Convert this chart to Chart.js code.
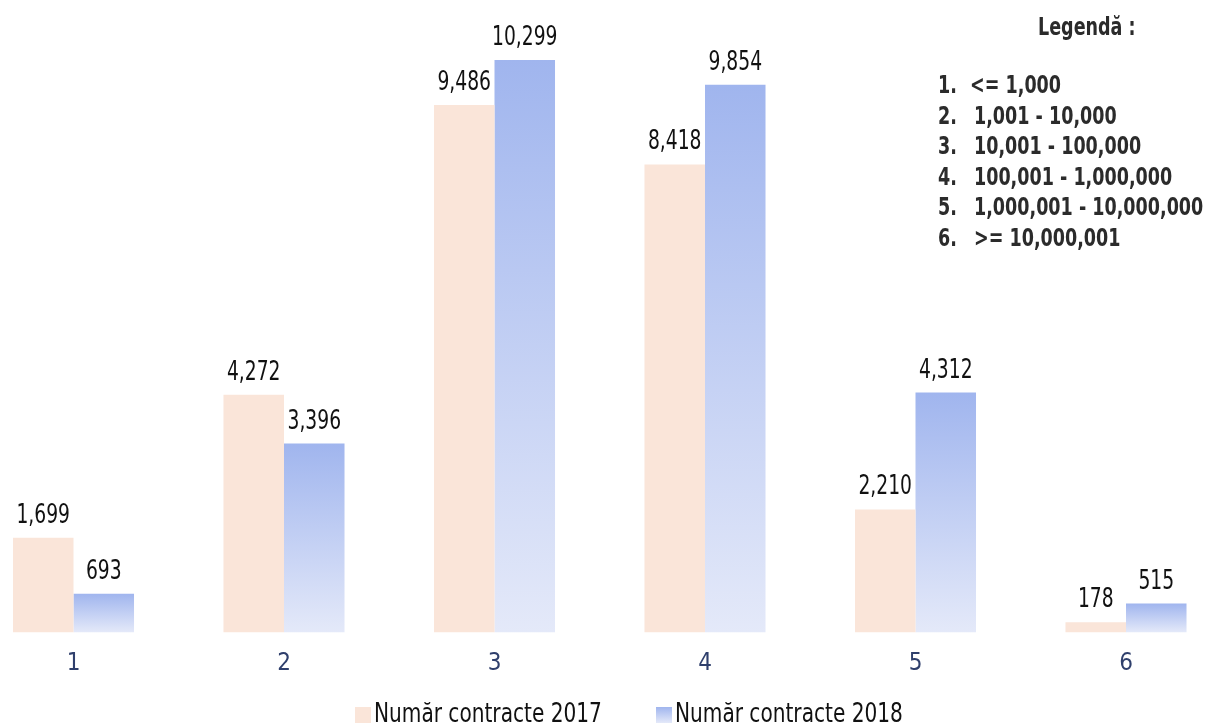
<!DOCTYPE html>
<html>
<head>
<meta charset="utf-8">
<script src="https://cdn.jsdelivr.net/npm/chart.js@4"></script>
<style>
  html, body { margin: 0; padding: 0; background: #ffffff; }
  #wrap { position: relative; width: 1209px; height: 724px; overflow: hidden; font-family: "DejaVu Sans Condensed", "DejaVu Sans", sans-serif; }
  canvas { position: absolute; left: 0; top: 0; }
  #note { position: absolute; left: 938px; top: 12px; color: #2b2b2b; font-weight: bold; font-size: 25px; }
  #note div { position: absolute; white-space: nowrap; line-height: 30px; transform: scaleX(0.78); transform-origin: 0 50%; }
  #legend { position: absolute; left: 0; top: 699px; width: 1209px; height: 28px; color: #111; font-size: 26px; }
  #legend .box { position: absolute; top: 8px; width: 16px; height: 16px; }
  #legend .txt { position: absolute; top: 0; line-height: 28px; white-space: nowrap; transform: scaleX(0.86); transform-origin: 0 50%; }
</style>
</head>
<body>
<div id="wrap">
  <canvas id="c" width="1209" height="724"></canvas>
  <div id="note"></div>
  <div id="legend"></div>
</div>
<script>
const categories = ["1", "2", "3", "4", "5", "6"];
const seriesNames = ["Număr contracte 2017", "Număr contracte 2018"];
const values2017 = [1699, 4272, 9486, 8418, 2210, 178];
const values2018 = [693, 3396, 10299, 9854, 4312, 515];
const noteTitle = "Legendă :";
const noteNums = ["1.", "2.", "3.", "4.", "5.", "6."];
const noteRanges = ["<= 1,000", "1,001 - 10,000", "10,001 - 100,000", "100,001 - 1,000,000", "1,000,001 - 10,000,000", ">= 10,000,001"];

const peach = "#fae5d9";
const blueTop = "#a0b5ee";
const blueBottom = "#e4e9f9";
const FONT = '"DejaVu Sans Condensed", "DejaVu Sans", sans-serif';

function blueGradient(ctx) {
  const chart = ctx.chart;
  if (!chart.chartArea || ctx.raw === undefined) return blueTop;
  const y = chart.scales.y;
  const top = y.getPixelForValue(ctx.raw);
  const bottom = y.getPixelForValue(0);
  const g = chart.ctx.createLinearGradient(0, top, 0, bottom);
  g.addColorStop(0, blueTop);
  g.addColorStop(1, blueBottom);
  return g;
}

const valueLabels = {
  id: "valueLabels",
  afterDatasetsDraw(chart) {
    const c = chart.ctx;
    c.save();
    c.font = "26px " + FONT;
    c.fillStyle = "#111111";
    c.textAlign = "center";
    c.textBaseline = "alphabetic";
    chart.data.datasets.forEach((ds, di) => {
      const meta = chart.getDatasetMeta(di);
      meta.data.forEach((el, i) => {
        const txt = ds.data[i].toLocaleString("en-US");
        const w = c.measureText(txt).width;
        c.fillText(txt, el.x, el.y - 15, w * 0.8);
      });
    });
    c.restore();
  }
};

new Chart(document.getElementById("c"), {
  type: "bar",
  data: {
    labels: categories,
    datasets: [
      { label: seriesNames[0], data: values2017, backgroundColor: peach, borderWidth: 0, clip: false },
      { label: seriesNames[1], data: values2018, backgroundColor: blueGradient, borderWidth: 0, clip: false }
    ]
  },
  options: {
    responsive: false,
    animation: false,
    events: [],
    layout: { padding: { left: 73.5, right: 83, top: 21, bottom: 29 } },
    datasets: { bar: { barPercentage: 1, categoryPercentage: 0.575 } },
    plugins: { legend: { display: false }, tooltip: { enabled: false } },
    scales: {
      x: {
        offset: false,
        grid: { display: false, drawTicks: false },
        border: { display: false },
        ticks: { color: "#2f3f6c", font: { family: FONT, size: 24 }, padding: 17 }
      },
      y: { display: false, min: 0, max: 11000 }
    }
  },
  plugins: [valueLabels]
});

// Explanatory note (top right)
const note = document.getElementById("note");
function addNote(text, left, top) {
  const d = document.createElement("div");
  d.textContent = text;
  d.style.left = left + "px";
  d.style.top = top + "px";
  note.appendChild(d);
}
addNote(noteTitle, 100, 0);
noteNums.forEach((n, i) => {
  const top = 58 + i * 30.6;
  addNote(n, 0, top);
  addNote(noteRanges[i], i === 0 ? 32 : 36, top);
});

// Series legend (bottom)
const legend = document.getElementById("legend");
const legendX = [355, 656];
const legendBg = [peach, "linear-gradient(" + blueTop + "," + blueBottom + ")"];
seriesNames.forEach((name, i) => {
  const b = document.createElement("div");
  b.className = "box"; b.style.left = legendX[i] + "px"; b.style.background = legendBg[i];
  legend.appendChild(b);
  const t = document.createElement("div");
  t.className = "txt"; t.style.left = (legendX[i] + 19) + "px"; t.textContent = name;
  legend.appendChild(t);
});
</script>
</body>
</html>
